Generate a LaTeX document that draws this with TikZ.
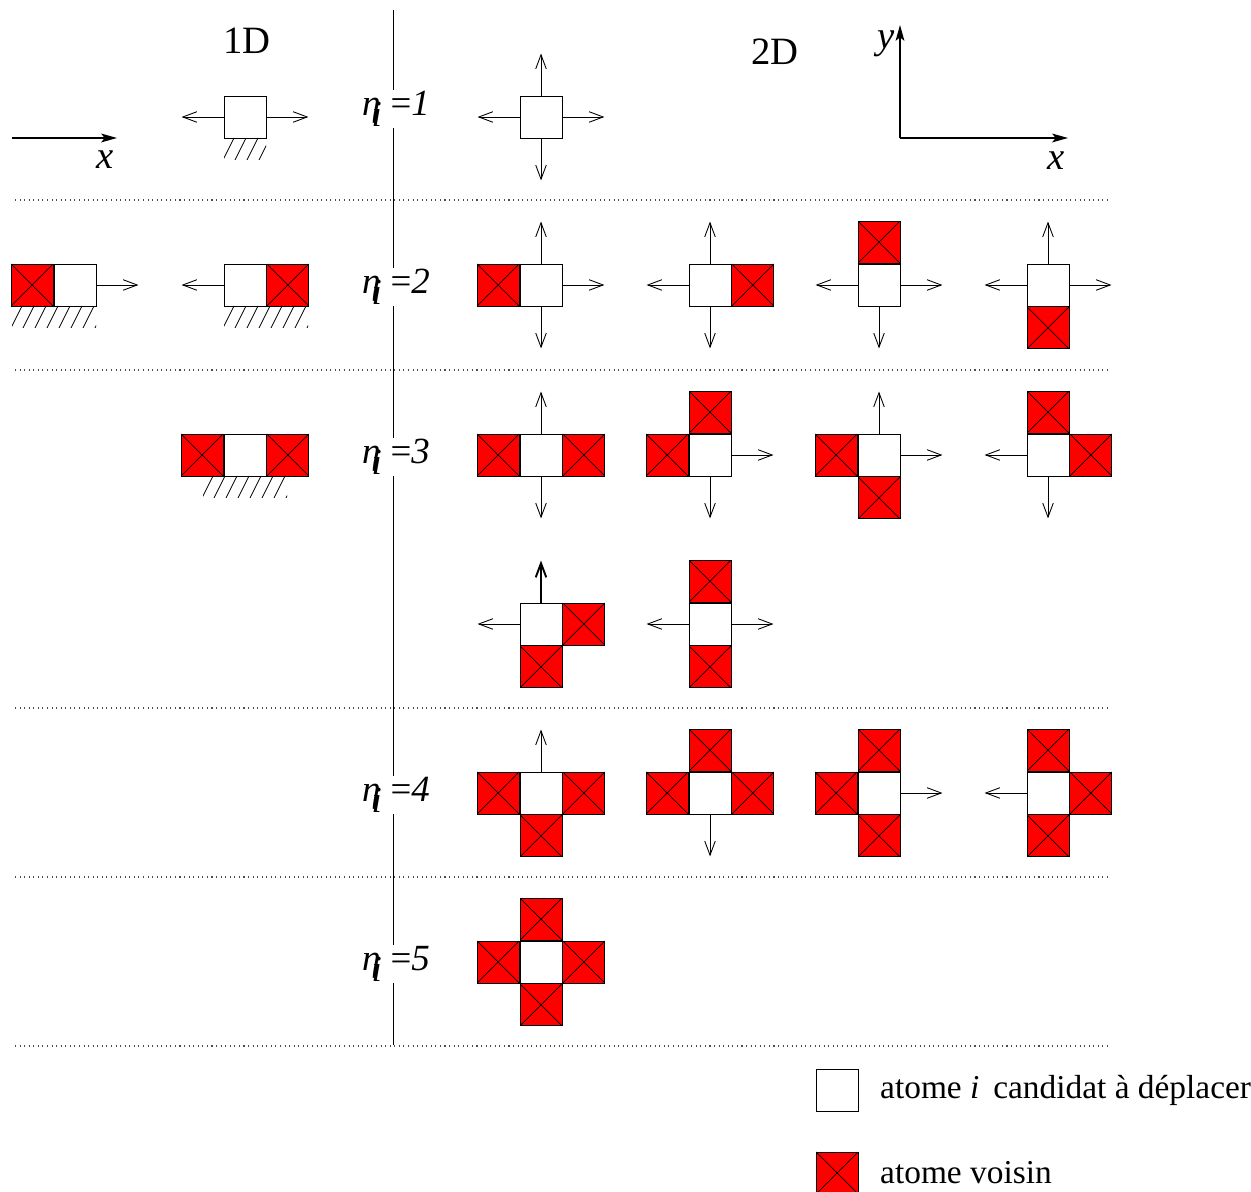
\documentclass[tikz,border=0pt]{standalone}
\usepackage{fontspec}
\setmainfont{Liberation Serif}
\usetikzlibrary{arrows.meta, positioning}

% label n_i = k
\newcommand{\nlab}[1]{\textit{η}\kern-5pt\raisebox{-6pt}{\textit{i}}\kern5pt{=}\textit{#1}}

\begin{document}
\begin{tikzpicture}[
    font=\fontsize{19}{23}\selectfont,
    cand/.style={rectangle, draw=black, fill=white, line width=0.5pt, minimum size=0.84cm, inner sep=0pt},
    voisin/.style={cand, fill=red, path picture={
        \draw[line width=0.4pt] (path picture bounding box.south west) -- (path picture bounding box.north east)
              (path picture bounding box.north west) -- (path picture bounding box.south east);}},
    fleche/.style={-{Straight Barb[length=8pt,width=6pt]}, line width=0.5pt},
    axe/.style={-{Stealth[length=9pt,width=5pt,inset=2pt]}, line width=0.7pt},
    sep/.style={dotted, line width=0.6pt, black!70},
    nlabel/.style={fill=white, inner sep=1pt, font=\fontsize{21}{25}\selectfont},
    titre/.style={font=\fontsize{22}{26}\selectfont}
]
\useasboundingbox (0,0) rectangle (25.02,23.84);

% separations
\draw[sep] (0.3,19.84) -- (22.2,19.84);
\draw[sep] (0.3,16.44) -- (22.2,16.44);
\draw[sep] (0.3,9.68) -- (22.2,9.68);
\draw[sep] (0.3,6.3) -- (22.2,6.3);
\draw[sep] (0.3,2.92) -- (22.2,2.92);
\draw[line width=0.5pt] (7.86,23.64) -- (7.86,2.94);

\node[nlabel] (n1) at (7.92,21.66) {\nlab{1}};
\node[nlabel] (n2) at (7.92,18.1) {\nlab{2}};
\node[nlabel] (n3) at (7.92,14.7) {\nlab{3}};
\node[nlabel] (n4) at (7.92,7.94) {\nlab{4}};
\node[nlabel] (n5) at (7.92,4.56) {\nlab{5}};

\node[titre] (t1d) at (4.94,23.02) {1D};
\node[titre] (t2d) at (15.5,22.8) {2D};

% axes
\coordinate (o1) at (0.24,21.08);
\coordinate (x1) at (2.34,21.08);
\draw[axe] (o1) -- (x1);
\node[titre] (lx1) at (2.1,20.64) {\textit{x}};
\coordinate (o2) at (18.0,21.08);
\coordinate (x2) at (21.36,21.08);
\coordinate (y2) at (18.0,23.34);
\draw[axe] (o2) -- (x2);
\draw[axe] (o2) -- (y2);
\node[titre] (lx2) at (21.12,20.62) {\textit{x}};
\node[titre] (ly2) at (17.72,22.96) {\textit{y}};

% 1D
\node[cand] (b1) at (4.9,21.5) {};
\draw[fleche] (b1.west) -- ++(-0.84,0);
\draw[fleche] (b1.east) -- ++(0.84,0);

\node[cand] (b21) at (1.5,18.14) {};
\node[voisin, left=0pt of b21] (v21) {};
\draw[fleche] (b21.east) -- ++(0.84,0);

\node[cand] (b22) at (4.9,18.14) {};
\node[voisin, right=0pt of b22] (v22) {};
\draw[fleche] (b22.west) -- ++(-0.84,0);

\node[cand] (b3) at (4.9,14.74) {};
\node[voisin, left=0pt of b3] (v3w) {};
\node[voisin, right=0pt of b3] (v3e) {};

% hachures
\foreach \xa/\xb/\yh in {4.48/5.32/21.08, 0.24/1.92/17.72, 4.48/6.16/17.72, 4.06/5.74/14.32} {
  \begin{scope}
    \clip (\xa,\yh-0.44) rectangle (\xb,\yh);
    \foreach \k in {0,...,8}
      \draw[line width=0.5pt] (\xa-0.02+0.24*\k,\yh-0.44) -- ++(0.22,0.44);
  \end{scope}
}

% 2D, n = 1
\node[cand] (a1) at (10.82,21.5) {};
\draw[fleche] (a1.north) -- ++(0,0.84);
\draw[fleche] (a1.south) -- ++(0,-0.84);
\draw[fleche] (a1.east) -- ++(0.84,0);
\draw[fleche] (a1.west) -- ++(-0.84,0);

% 2D, n = 2
\node[cand] (a21) at (10.82,18.14) {};
\node[voisin, left=0pt of a21] (v21w) {};
\draw[fleche] (a21.north) -- ++(0,0.84);
\draw[fleche] (a21.south) -- ++(0,-0.84);
\draw[fleche] (a21.east) -- ++(0.84,0);

\node[cand] (a22) at (14.2,18.14) {};
\node[voisin, right=0pt of a22] (v22e) {};
\draw[fleche] (a22.north) -- ++(0,0.84);
\draw[fleche] (a22.south) -- ++(0,-0.84);
\draw[fleche] (a22.west) -- ++(-0.84,0);

\node[cand] (a23) at (17.58,18.14) {};
\node[voisin, above=0pt of a23] (v23n) {};
\draw[fleche] (a23.south) -- ++(0,-0.84);
\draw[fleche] (a23.east) -- ++(0.84,0);
\draw[fleche] (a23.west) -- ++(-0.84,0);

\node[cand] (a24) at (20.96,18.14) {};
\node[voisin, below=0pt of a24] (v24s) {};
\draw[fleche] (a24.north) -- ++(0,0.84);
\draw[fleche] (a24.east) -- ++(0.84,0);
\draw[fleche] (a24.west) -- ++(-0.84,0);

% 2D, n = 3
\node[cand] (a31) at (10.82,14.74) {};
\node[voisin, left=0pt of a31] (v31w) {};
\node[voisin, right=0pt of a31] (v31e) {};
\draw[fleche] (a31.north) -- ++(0,0.84);
\draw[fleche] (a31.south) -- ++(0,-0.84);

\node[cand] (a32) at (14.2,14.74) {};
\node[voisin, left=0pt of a32] (v32w) {};
\node[voisin, above=0pt of a32] (v32n) {};
\draw[fleche] (a32.east) -- ++(0.84,0);
\draw[fleche] (a32.south) -- ++(0,-0.84);

\node[cand] (a33) at (17.58,14.74) {};
\node[voisin, left=0pt of a33] (v33w) {};
\node[voisin, below=0pt of a33] (v33s) {};
\draw[fleche] (a33.north) -- ++(0,0.84);
\draw[fleche] (a33.east) -- ++(0.84,0);

\node[cand] (a34) at (20.96,14.74) {};
\node[voisin, above=0pt of a34] (v34n) {};
\node[voisin, right=0pt of a34] (v34e) {};
\draw[fleche] (a34.west) -- ++(-0.84,0);
\draw[fleche] (a34.south) -- ++(0,-0.84);

\node[cand] (a35) at (10.82,11.36) {};
\node[voisin, right=0pt of a35] (v35e) {};
\node[voisin, below=0pt of a35] (v35s) {};
\draw[fleche, line width=1.1pt] (a35.north) -- ++(0,0.84);
\draw[fleche] (a35.west) -- ++(-0.84,0);

\node[cand] (a36) at (14.2,11.36) {};
\node[voisin, above=0pt of a36] (v36n) {};
\node[voisin, below=0pt of a36] (v36s) {};
\draw[fleche] (a36.west) -- ++(-0.84,0);
\draw[fleche] (a36.east) -- ++(0.84,0);

% 2D, n = 4
\node[cand] (a41) at (10.82,7.98) {};
\node[voisin, left=0pt of a41] (v41w) {};
\node[voisin, right=0pt of a41] (v41e) {};
\node[voisin, below=0pt of a41] (v41s) {};
\draw[fleche] (a41.north) -- ++(0,0.84);

\node[cand] (a42) at (14.2,7.98) {};
\node[voisin, left=0pt of a42] (v42w) {};
\node[voisin, right=0pt of a42] (v42e) {};
\node[voisin, above=0pt of a42] (v42n) {};
\draw[fleche] (a42.south) -- ++(0,-0.84);

\node[cand] (a43) at (17.58,7.98) {};
\node[voisin, left=0pt of a43] (v43w) {};
\node[voisin, above=0pt of a43] (v43n) {};
\node[voisin, below=0pt of a43] (v43s) {};
\draw[fleche] (a43.east) -- ++(0.84,0);

\node[cand] (a44) at (20.96,7.98) {};
\node[voisin, right=0pt of a44] (v44e) {};
\node[voisin, above=0pt of a44] (v44n) {};
\node[voisin, below=0pt of a44] (v44s) {};
\draw[fleche] (a44.west) -- ++(-0.84,0);

% 2D, n = 5
\node[cand] (a5) at (10.82,4.6) {};
\node[voisin, left=0pt of a5] (v5w) {};
\node[voisin, right=0pt of a5] (v5e) {};
\node[voisin, above=0pt of a5] (v5n) {};
\node[voisin, below=0pt of a5] (v5s) {};

% legende
\node[cand] (lc) at (16.74,2.04) {};
\node[anchor=west] (lct) at (17.48,2.04) {atome \textit{i}\, candidat à déplacer};
\node[voisin] (lv) at (16.74,0.38) {};
\node[anchor=west] (lvt) at (17.48,0.38) {atome voisin};
\end{tikzpicture}
\end{document}
